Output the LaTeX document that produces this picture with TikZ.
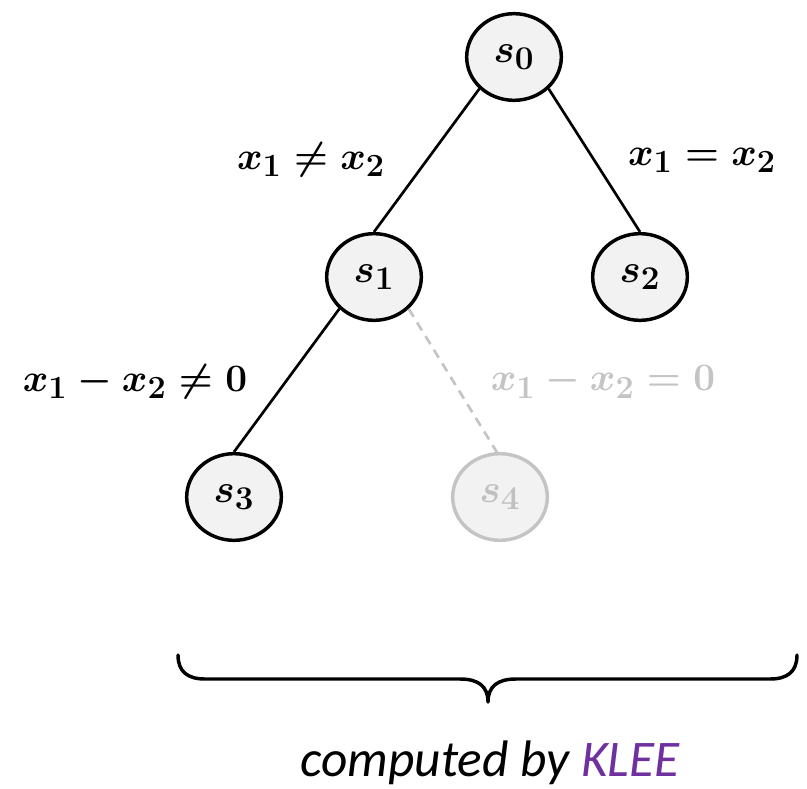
\documentclass[tikz,border=0pt]{standalone}
\usepackage{fontspec}
\newfontfamily\calib{Carlito}
\usetikzlibrary{shapes.geometric}
\definecolor{nodefill}{HTML}{F2F2F2}
\definecolor{faded}{HTML}{C4C4C4}
\definecolor{fadedtext}{HTML}{C0C0C0}
\definecolor{kleepurple}{HTML}{7030A0}
\newcommand\condmath[1]{\scalebox{1.17}{$#1$}}
\newcommand\statemath[1]{\scalebox{1.2}{$#1$}}
\tikzset{
  state/.style={ellipse, draw=black, line width=2.6pt, fill=nodefill,
    minimum width=71pt, minimum height=65pt, inner sep=0pt,
    font=\fontsize{24.88}{30}\selectfont\boldmath},
  fadedstate/.style={state, draw=faded, text=fadedtext},
  edge/.style={line width=2pt, draw=black},
  fadededge/.style={line width=2pt, draw=faded, dash pattern=on 7pt off 5pt},
  cond/.style={inner sep=0pt, font=\fontsize{24.88}{30}\selectfont\boldmath},
}
\begin{document}
\begin{tikzpicture}[x=0.75pt, y=-0.75pt]
\useasboundingbox (0,0) rectangle (807,789);
\node[state] (s0) at (514,57) {\statemath{s_0}};
\node[state] (s1) at (374,277) {\statemath{s_1}};
\node[state] (s2) at (640,277) {\statemath{s_2}};
\node[state] (s3) at (234,497) {\statemath{s_3}};
\node[fadedstate] (s4) at (500,497) {\statemath{s_4}};
\draw[edge] (s0.south west) -- (s1.north);
\draw[edge] (s0.south east) -- (s2.north);
\draw[edge] (s1.south west) -- (s3.north);
\draw[fadededge] (s1.south east) -- ([yshift=-4pt]s4.north);
\node[cond] (c1) at (311,160) {\condmath{x_1 \neq x_2}};
\node[cond] (c2) at (702,160) {\condmath{x_1 = x_2}};
\node[cond] (c3) at (135,382) {\condmath{x_1 - x_2 \neq 0}};
\node[cond, text=faded] (c4) at (603,382) {\condmath{x_1 - x_2 = 0}};
\coordinate (bl) at (178,655);
\coordinate (br) at (797,655);
\coordinate (tip) at (488,702);
\draw[line width=2.6pt, line cap=round, line join=round]
  (bl) .. controls (178,672) and (188,679) .. (205,679)
  -- (460,679) .. controls (478,679) and (488,686) .. (tip)
  .. controls (488,686) and (498,679) .. (516,679)
  -- (770,679) .. controls (787,679) and (797,672) .. (br);
\node[font=\calib\itshape\fontsize{38.5}{42}\selectfont, anchor=base] (lbl) at (490,776)
  {computed by \textcolor{kleepurple}{KLEE}};
\end{tikzpicture}
\end{document}
